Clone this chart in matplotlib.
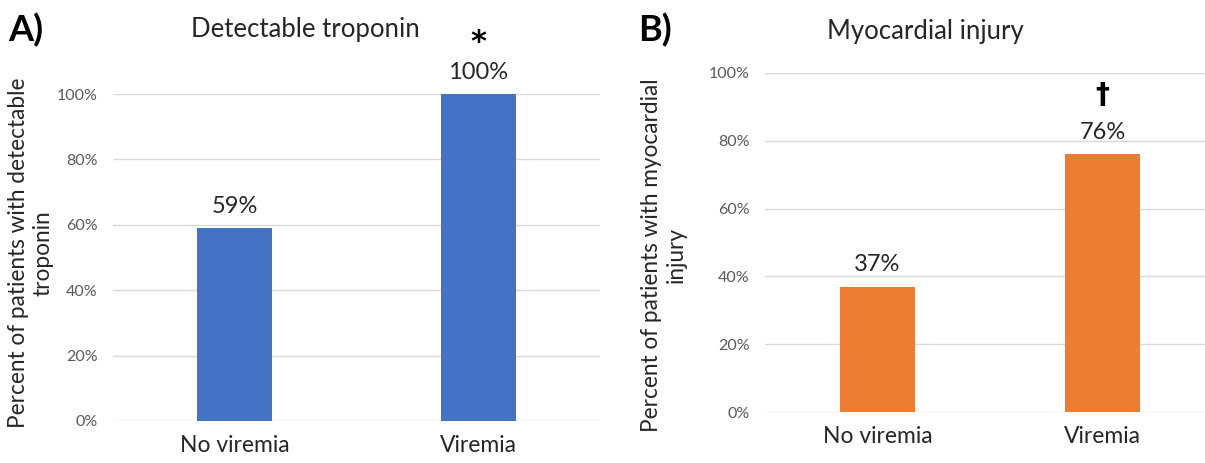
import matplotlib.pyplot as plt

groups = ['No viremia', 'Viremia']
troponin = [59, 100]
injury = [37, 76]
yticks = [0, 20, 40, 60, 80, 100]
tick_labels = ['0%', '20%', '40%', '60%', '80%', '100%']

plt.rcParams['font.family'] = ['Lato', 'DejaVu Sans']

fig = plt.figure(figsize=(12.05, 4.63), dpi=100)
W, H = 1205, 463


def style_axes(ax):
    ax.set_yticks(yticks)
    ax.set_yticklabels(tick_labels, color='#595959', fontsize=11.5)
    ax.tick_params(axis='y', length=0, pad=11)
    ax.tick_params(axis='x', length=0, pad=10, labelsize=16.5, labelcolor='#262626')
    ax.grid(axis='y', color='#D9D9D9', linewidth=1)
    ax.set_axisbelow(True)
    for s in ax.spines.values():
        s.set_visible(False)


# panel A
axA = fig.add_axes([113 / W, 42 / H, 487 / W, 327 / H])
barsA = axA.bar(groups, troponin, width=0.31, color='#4472C4')
axA.set_xlim(-0.5, 1.5)
axA.set_ylim(0, 100)
style_axes(axA)
for b, v in zip(barsA, troponin):
    axA.annotate(f'{v}%', (b.get_x() + b.get_width() / 2, v), xytext=(0, 8),
                 textcoords='offset points', ha='center', va='bottom',
                 fontsize=17, color='#262626', annotation_clip=False)
axA.annotate('*', (1, 100), xytext=(0, 37), textcoords='offset points',
             ha='center', va='center', fontsize=22, fontweight='bold',
             family='DejaVu Sans', annotation_clip=False)
fig.text(8 / W, 1 - 253 / H, 'Percent of patients with detectable\ntroponin',
         rotation=90, ha='left', va='center', fontsize=16.3, color='#262626',
         multialignment='center')
fig.text(305 / W, 1 - 30 / H, 'Detectable troponin', ha='center', va='center',
         fontsize=18.5, color='#262626')
fig.text(8 / W, 1 - 30 / H, 'A)', ha='left', va='center', fontsize=26,
         fontweight='bold')

# panel B
axB = fig.add_axes([765 / W, 51 / H, 440 / W, 339 / H])
barsB = axB.bar(groups, injury, width=0.33, color='#ED7D31')
axB.set_xlim(-0.5, 1.455)
axB.set_ylim(0, 100)
style_axes(axB)
for b, v in zip(barsB, injury):
    axB.annotate(f'{v}%', (b.get_x() + b.get_width() / 2, v), xytext=(0, 8),
                 textcoords='offset points', ha='center', va='bottom',
                 fontsize=17, color='#262626', annotation_clip=False)
axB.annotate('\u2020', (1, 76), xytext=(0, 33), textcoords='offset points',
             ha='center', va='bottom', fontsize=20, fontweight='bold',
             family='DejaVu Sans', annotation_clip=False)
fig.text(641 / W, 1 - 255 / H, 'Percent of patients with myocardial\ninjury',
         rotation=90, ha='left', va='center', fontsize=16.3, color='#262626',
         multialignment='center')
fig.text(925 / W, 1 - 32 / H, 'Myocardial injury', ha='center', va='center',
         fontsize=18.5, color='#262626')
fig.text(638 / W, 1 - 30 / H, 'B)', ha='left', va='center', fontsize=26,
         fontweight='bold')

fig.savefig('out.png', dpi=100)
